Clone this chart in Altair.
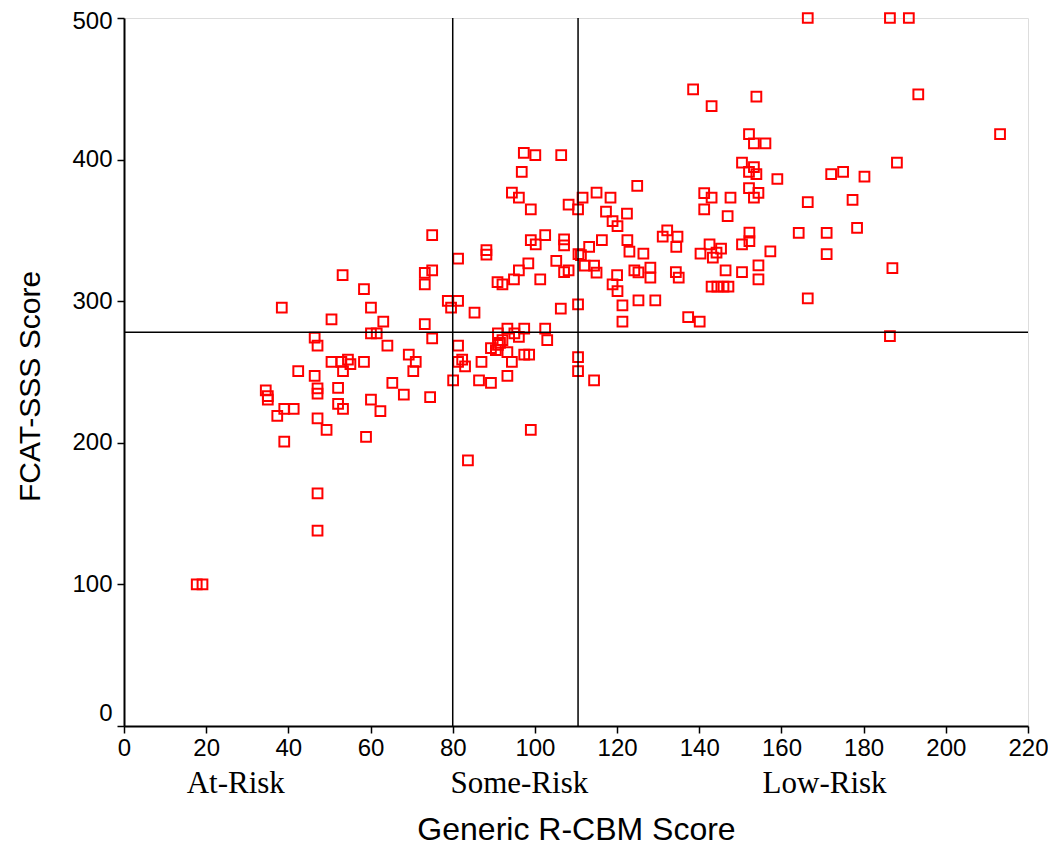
import altair as alt
import pandas as pd

# Generic R-CBM score (x) and FCAT-SSS score (y) for each student
rcbm = [17.7, 19.1, 34.5, 35.0, 35.0, 37.3, 38.4, 39.0, 41.3, 39.0,
        42.4, 46.4, 47.1, 46.4, 47.1, 47.1, 47.1, 47.1, 47.1, 49.3,
        50.5, 50.5, 52.9, 54.5, 55.1, 53.3, 52.1, 52.1, 53.3, 53.2,
        58.4, 58.4, 58.9, 60.1, 60.1, 61.5, 60.1, 62.4, 63.1, 64.1,
        65.3, 68.1, 69.3, 71.0, 70.4, 73.2, 75.0, 73.2, 73.2, 74.5,
        75.0, 75.0, 78.8, 81.3, 79.6, 80.1, 81.3, 81.3, 81.3, 82.3,
        83.0, 83.7, 85.3, 86.4, 87.0, 88.2, 88.2, 89.3, 90.5, 91.0,
        91.5, 92.1, 89.3, 91.0, 90.9, 92.1, 93.3, 93.3, 93.3, 94.4,
        94.4, 96.1, 94.9, 95.0, 96.1, 96.1, 96.8, 97.3, 97.4, 97.4,
        98.6, 98.4, 99.0, 99.0, 100.2, 100.1, 99.0, 101.3, 102.5, 102.5,
        103.0, 105.2, 106.3, 106.4, 107.1, 107.1, 107.1, 108.2, 108.2, 110.5,
        111.6, 110.6, 111.2, 110.5, 110.5, 110.5, 112.1, 113.2, 114.4, 115.0,
        114.4, 115.0, 116.3, 117.3, 118.4, 118.9, 120.1, 118.9, 120.0, 120.1,
        121.3, 121.3, 122.4, 122.5, 123.0, 124.2, 125.2, 125.2, 124.9, 126.4,
        128.1, 128.1, 129.3, 131.1, 132.2, 134.7, 134.4, 134.3, 135.0, 137.3,
        140.1, 138.5, 140.3, 142.5, 143.3, 144.2, 145.3, 141.2, 143.0, 141.2,
        143.0, 146.4, 146.9, 147.6, 143.0, 144.4, 145.9, 147.1, 150.4, 150.4,
        150.4, 152.1, 153.3, 156.1, 153.3, 152.1, 153.9, 152.1, 154.4, 153.3,
        153.9, 152.2, 152.2, 154.4, 154.4, 157.3, 159.0, 164.2, 166.4, 166.4,
        166.4, 171.0, 171.0, 172.1, 175.0, 177.3, 178.4, 180.2, 186.4, 187.0,
        186.4, 188.1, 191.0, 193.3, 213.2]

fcat = [100, 100, 237, 233, 230.5, 219, 295.4, 224, 224, 200.8,
        250.6, 274.2, 268.7, 247.3, 238.5, 234.8, 217.3, 164.3, 137.9, 209.1,
        287.1, 257.2, 257.2, 258.8, 255.5, 250.6, 238.8, 227.5, 224.0, 318.5,
        308.6, 257.2, 204.2, 295.4, 277.2, 277.2, 230.5, 222.3, 285.5, 268.7,
        242.4, 234.1, 262.2, 257.2, 250.6, 320.0, 321.8, 311.9, 283.8, 232.2,
        273.7, 346.7, 300.3, 300.3, 295.4, 244.0, 330.0, 268.7, 257.2, 258.8,
        253.9, 187.6, 291.9, 244.0, 257.2, 336.1, 332.9, 266.8, 265.4, 269.2,
        270.6, 272.5, 242.4, 277.2, 313.5, 311.9, 280.6, 264.0, 247.3, 257.2,
        376.7, 373.2, 315.4, 277.2, 321.8, 274.8, 391.3, 404.7, 280.6, 262.2,
        262.2, 326.7, 364.9, 343.2, 340.2, 403.1, 209.1, 315.4, 346.7, 280.6,
        272.5, 328.4, 294.7, 403.1, 343.7, 339.5, 320.6, 321.8, 368.2, 364.9,
        373.2, 333.3, 332.6, 297.7, 260.5, 250.6, 325.1, 338.3, 325.1, 320.2,
        244.0, 376.7, 343.2, 363.3, 373.2, 356.6, 353.1, 311.9, 318.5, 307.1,
        297.0, 285.5, 361.9, 343.2, 335.0, 321.8, 320.4, 300.6, 381.4, 333.6,
        323.7, 316.6, 300.6, 345.6, 350.1, 345.6, 338.3, 320.6, 316.6, 288.8,
        285.5, 449.6, 333.6, 340.2, 330.8, 334.3, 337.1, 376.4, 373.2, 364.9,
        437.8, 321.8, 360.0, 373.2, 310.3, 310.3, 310.3, 310.3, 397.9, 340.2,
        320.6, 418.0, 411.4, 411.4, 394.6, 391.3, 389.7, 379.8, 376.5, 373.2,
        444.4, 348.4, 342.5, 325.3, 315.4, 335.2, 386.3, 348.2, 369.9, 302.0,
        500, 348.2, 333.3, 389.7, 391.3, 371.5, 351.7, 388.0, 500, 323.4,
        275.3, 397.9, 500, 446.0, 418.0]

risk_labels = ["At-Risk", "Some-Risk", "Low-Risk"]
risk_label_x = [27.2, 96.2, 170.5]
cut_rcbm = [80, 110.5]
cut_fcat = [278]

x_ticks = list(range(0, 221, 20))
y_ticks = list(range(0, 501, 100))

W, H = 904, 708

df = pd.DataFrame({"rcbm": rcbm, "fcat": fcat})
xs = alt.Scale(domain=[0, 220], nice=False, zero=False)
ys = alt.Scale(domain=[0, 500], nice=False)

x_axis = alt.Axis(values=x_ticks, grid=False, tickSize=7, tickWidth=1.5, tickColor="black",
                  domainColor="black", domainWidth=2, labelFont="Liberation Sans",
                  labelFontSize=24, labelColor="black", labelPadding=3, labelFlush=False,
                  titleFont="Liberation Sans", titleFontSize=32, titleFontWeight="normal",
                  titleColor="black", titlePadding=54)
y_axis = alt.Axis(values=y_ticks, grid=False, tickSize=7, tickWidth=1.5, tickColor="black",
                  domainColor="black", domainWidth=2, labelFont="Liberation Sans",
                  labelFontSize=24, labelColor="black", labelPadding=5, labelFlush=False,
                  labelOffset={"condition": [
                      {"test": "datum.value == 0", "value": -13},
                      {"test": "datum.value == 500", "value": 3}], "value": 0},
                  titleFont="Liberation Sans", titleFontSize=30, titleFontWeight="normal",
                  titleColor="black", titlePadding=26, titleY=H / 2 + 14)

points = alt.Chart(df).mark_point(
    shape="square", filled=False, color="#ff0000", size=95, strokeWidth=2, opacity=1
).encode(
    x=alt.X("rcbm:Q", scale=xs, axis=x_axis, title="Generic R-CBM Score"),
    y=alt.Y("fcat:Q", scale=ys, axis=y_axis, title="FCAT-SSS Score"),
)

vrules = alt.Chart(pd.DataFrame({"rcbm": cut_rcbm})).mark_rule(
    color="black", strokeWidth=1.5
).encode(x=alt.X("rcbm:Q", scale=xs))

hrules = alt.Chart(pd.DataFrame({"fcat": cut_fcat})).mark_rule(
    color="black", strokeWidth=1.5
).encode(y=alt.Y("fcat:Q", scale=ys))

labels = alt.Chart(pd.DataFrame({"rcbm": risk_label_x, "label": risk_labels})).mark_text(
    font="Liberation Serif", fontSize=31, align="center", baseline="middle", color="black"
).encode(
    x=alt.X("rcbm:Q", scale=xs),
    y=alt.value(H + 58),
    text="label:N",
)

chart = alt.layer(points, vrules, hrules, labels).properties(
    width=W, height=H,
    autosize=alt.AutoSizeParams(type="none"),
    padding={"left": 116, "top": 10, "right": 20, "bottom": 122},
).configure_view(stroke="black", strokeWidth=2).configure(background="white")

chart.save("out.html", embed_options={"renderer": "svg", "actions": False})
